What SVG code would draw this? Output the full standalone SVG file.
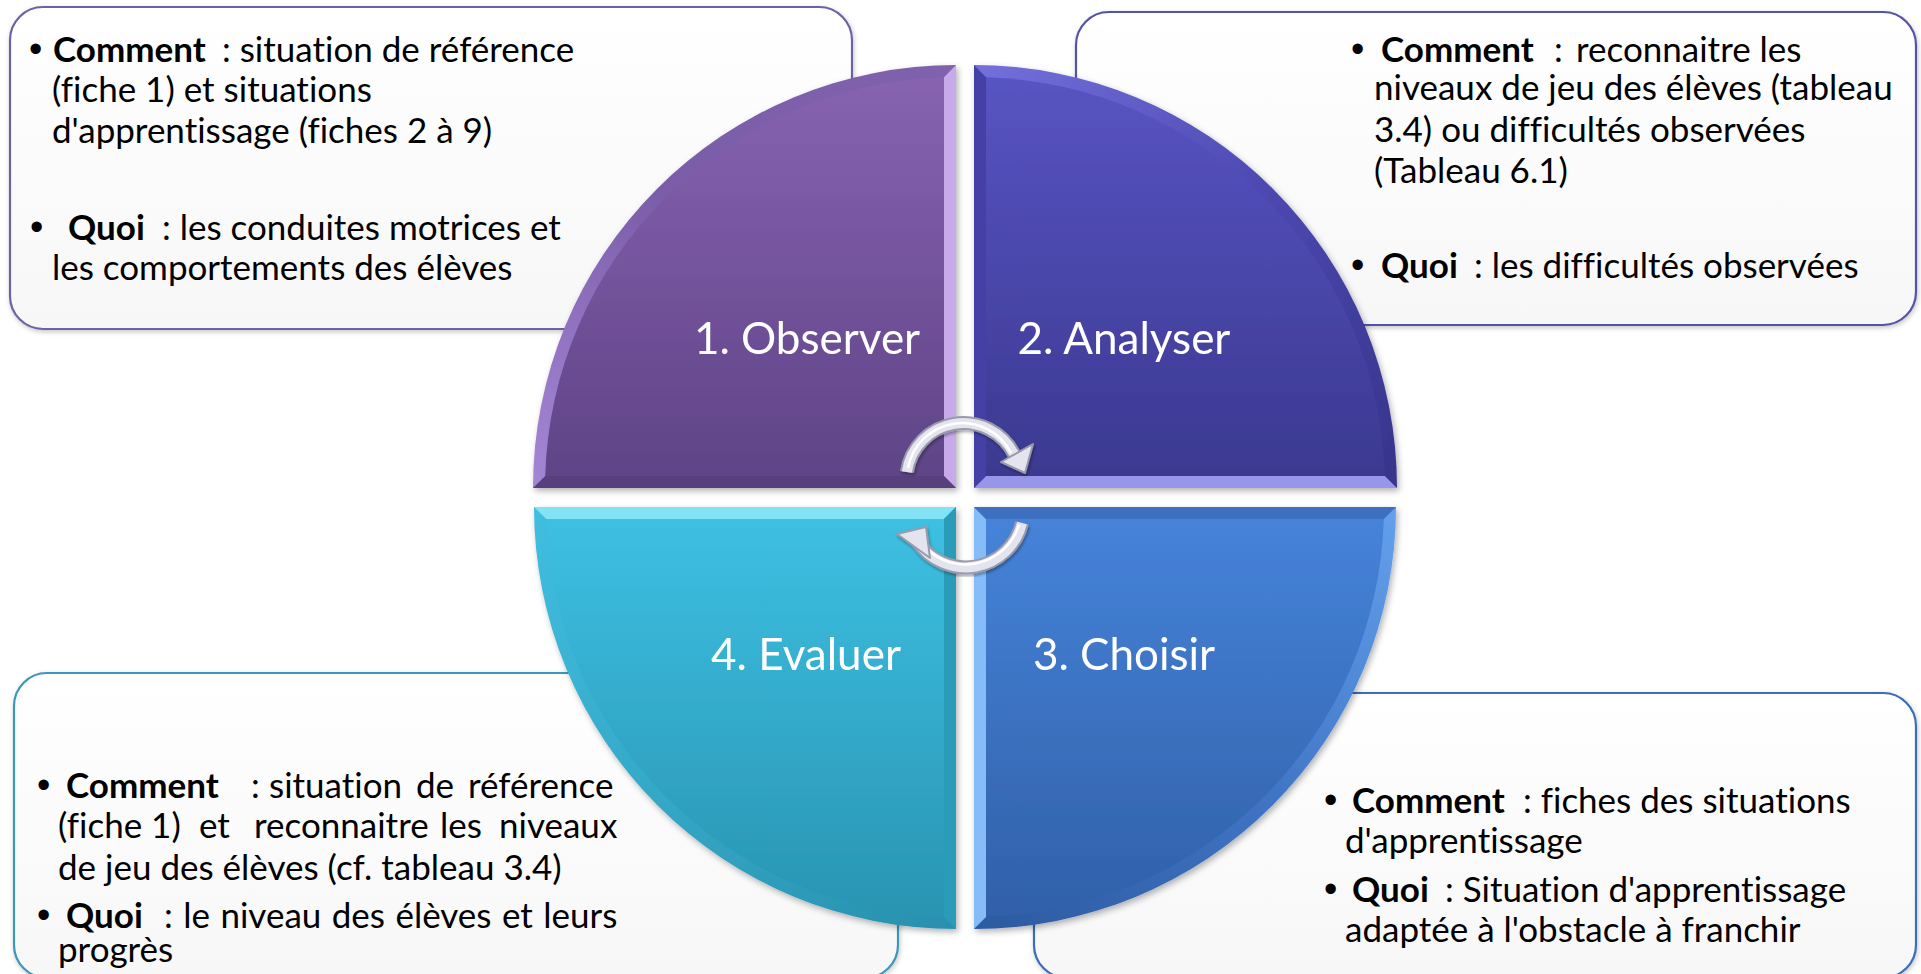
<svg xmlns="http://www.w3.org/2000/svg" width="1921" height="974" viewBox="0 0 1921 974">
<defs>
<style>
.box{fill:url(#boxFill);stroke-width:2.2}
.t{font-family:Lato,"Liberation Sans",sans-serif;font-size:35px;fill:#000;font-variant-ligatures:none;font-feature-settings:"liga" 0}
.b{font-weight:bold}
.bul{font-family:"Liberation Sans",sans-serif;font-size:38px;fill:#000}
.lbl{font-family:Lato,"Liberation Sans",sans-serif;font-size:44px;fill:#fff;text-anchor:middle;font-variant-ligatures:none}
.arrowOut{fill:none;stroke:#9a9aad;stroke-width:14;stroke-linecap:butt}
.arrowIn{fill:none;stroke:#e4e4ee;stroke-width:10;stroke-linecap:butt}
.arrowHi{fill:none;stroke:#ffffff;stroke-width:2.5}
.head{fill:#e4e4ee;stroke:#9a9aad;stroke-width:2;stroke-linejoin:round}
</style>
<linearGradient id="boxFill" x1="0" y1="0" x2="0" y2="1"><stop offset="0" stop-color="#ffffff"/><stop offset="1" stop-color="#f7f7f8"/></linearGradient>
<linearGradient id="g1" x1="0" y1="0" x2="0" y2="1"><stop offset="0" stop-color="#8763b0"/><stop offset="1" stop-color="#5f4487"/></linearGradient>
<linearGradient id="g2" x1="0" y1="0" x2="0" y2="1"><stop offset="0" stop-color="#5854c3"/><stop offset="1" stop-color="#3b3990"/></linearGradient>
<linearGradient id="g3" x1="0" y1="0" x2="0" y2="1"><stop offset="0" stop-color="#4683d9"/><stop offset="1" stop-color="#3060a8"/></linearGradient>
<linearGradient id="g4" x1="0" y1="0" x2="0" y2="1"><stop offset="0" stop-color="#3dc0e2"/><stop offset="1" stop-color="#2994b2"/></linearGradient>
<linearGradient id="e1" x1="0" y1="1" x2="1" y2="0"><stop offset="0" stop-color="#a486d6"/><stop offset="0.5" stop-color="#7a5ca8"/><stop offset="1" stop-color="#8062ae"/></linearGradient>
<linearGradient id="e2" x1="0" y1="0" x2="1" y2="1"><stop offset="0" stop-color="#7470dc"/><stop offset="0.5" stop-color="#4c48b0"/><stop offset="1" stop-color="#36348a"/></linearGradient>
<linearGradient id="e3" x1="1" y1="0" x2="0" y2="1"><stop offset="0" stop-color="#64a0ec"/><stop offset="0.5" stop-color="#3f74c4"/><stop offset="1" stop-color="#2c5aa0"/></linearGradient>
<linearGradient id="e4" x1="0" y1="0" x2="1" y2="1"><stop offset="0" stop-color="#40bedf"/><stop offset="1" stop-color="#2890ae"/></linearGradient>
<filter id="sh" x="-10%" y="-10%" width="120%" height="120%"><feDropShadow dx="2" dy="3" stdDeviation="3" flood-color="#000" flood-opacity="0.3"/></filter>
<filter id="shb" x="-5%" y="-5%" width="110%" height="110%"><feDropShadow dx="1" dy="2" stdDeviation="2.5" flood-color="#000" flood-opacity="0.22"/></filter>
<filter id="sha" x="-20%" y="-20%" width="140%" height="140%"><feDropShadow dx="1" dy="2" stdDeviation="1.5" flood-color="#000" flood-opacity="0.35"/></filter>
</defs>
<rect width="1921" height="974" fill="#ffffff"/>

<g id="box-observer">
<rect class="box" x="10" y="7" width="842" height="322" rx="33" stroke="#6e62a2" filter="url(#shb)"/>
<text class="bul" x="29" y="62">•</text>
<text class="t" x="53" y="62"><tspan class="b">Comment</tspan><tspan x="222">: situation de référence</tspan></text>
<text class="t" x="52" y="102">(fiche 1) et situations</text>
<text class="t" x="52" y="143">d'apprentissage (fiches 2 à 9)</text>
<text class="bul" x="30" y="240">•</text>
<text class="t" x="68" y="240"><tspan class="b">Quoi</tspan><tspan x="162">: les conduites motrices et</tspan></text>
<text class="t" x="52" y="280">les comportements des élèves</text>
</g>

<g id="box-analyser">
<rect class="box" x="1076" y="12" width="840" height="313" rx="33" stroke="#5553a8" filter="url(#shb)"/>
<text class="bul" x="1351" y="62">•</text>
<text class="t" x="1381" y="62"><tspan class="b">Comment</tspan><tspan x="1554">:</tspan><tspan x="1576">reconnaitre les</tspan></text>
<text class="t" x="1374" y="100">niveaux de jeu des élèves (tableau</text>
<text class="t" x="1374" y="142">3.4) ou difficultés observées</text>
<text class="t" x="1374" y="183">(Tableau 6.1)</text>
<text class="bul" x="1351" y="278">•</text>
<text class="t" x="1381" y="278"><tspan class="b">Quoi</tspan><tspan x="1474">: les difficultés observées</tspan></text>
</g>

<g id="box-evaluer">
<rect class="box" x="14" y="673" width="884" height="305" rx="33" stroke="#3b98b6" filter="url(#shb)"/>
<text class="bul" x="37" y="798">•</text>
<text class="t" y="798"><tspan class="b" x="66">Comment</tspan><tspan x="251">:</tspan><tspan x="269">situation</tspan><tspan x="416">de</tspan><tspan x="468">référence</tspan></text>
<text class="t" y="838"><tspan x="58">(fiche 1)</tspan><tspan x="199">et</tspan><tspan x="254">reconnaitre</tspan><tspan x="440">les</tspan><tspan x="499">niveaux</tspan></text>
<text class="t" x="58" y="880">de jeu des élèves (cf. tableau 3.4)</text>
<text class="bul" x="37" y="928">•</text>
<text class="t" y="928"><tspan class="b" x="66">Quoi</tspan><tspan x="164" word-spacing="1.5">: le niveau des élèves et leurs</tspan></text>
<text class="t" x="58" y="962">progrès</text>
</g>

<g id="box-choisir">
<rect class="box" x="1034" y="693" width="882" height="285" rx="33" stroke="#3d6db8" filter="url(#shb)"/>
<text class="bul" x="1324" y="813">•</text>
<text class="t" x="1352" y="813"><tspan class="b">Comment</tspan><tspan x="1523">: fiches des situations</tspan></text>
<text class="t" x="1345" y="853">d'apprentissage</text>
<text class="bul" x="1324" y="902">•</text>
<text class="t" x="1352" y="902"><tspan class="b">Quoi</tspan><tspan x="1445">: Situation d'apprentissage</tspan></text>
<text class="t" x="1345" y="942">adaptée à l'obstacle à franchir</text>
</g>

<g id="q1-observer" filter="url(#sh)">
<path d="M956 488 L956 65 A423 423 0 0 0 533 488 Z" fill="url(#e1)"/>
<path d="M956 65 L956 488 L944 476 L944 77.2 Z" fill="#c7aaea"/>
<path d="M956 488 L533 488 L545.2 476 L944 476 Z" fill="#59407f"/>
<path d="M944 476 L944 77.2 A411 411 0 0 0 545.2 476 Z" fill="url(#g1)"/>
<text class="lbl" x="807" y="354">1. Observer</text>
</g>

<g id="q2-analyser" filter="url(#sh)">
<path d="M974 488 L974 65 A423 423 0 0 1 1397 488 Z" fill="url(#e2)"/>
<path d="M974 488 L1397 488 L1384.8 476 L986 476 Z" fill="#9896ea"/>
<path d="M974 65 L974 488 L986 476 L986 77.2 Z" fill="#4541a6"/>
<path d="M986 476 L986 77.2 A411 411 0 0 1 1384.8 476 Z" fill="url(#g2)"/>
<text class="lbl" x="1124" y="354">2. Analyser</text>
</g>

<g id="q3-choisir" filter="url(#sh)">
<path d="M974 507 L1396 507 A422 422 0 0 1 974 929 Z" fill="url(#e3)"/>
<path d="M974 507 L974 929 L986 917 L986 519 Z" fill="#86bcf8"/>
<path d="M974 507 L1396 507 L1383.8 519 L986 519 Z" fill="#3c70c0"/>
<path d="M986 519 L1383.8 519 A410 410 0 0 1 986 916.8 Z" fill="url(#g3)"/>
<text class="lbl" x="1124" y="670">3. Choisir</text>
</g>

<g id="q4-evaluer" filter="url(#sh)">
<path d="M956 507 L956 929 A422 422 0 0 1 534 507 Z" fill="url(#e4)"/>
<path d="M956 507 L534 507 L546.2 519 L944 519 Z" fill="#82e2f6"/>
<path d="M956 507 L956 929 L944 917 L944 519 Z" fill="#2b9cba"/>
<path d="M944 519 L944 916.8 A410 410 0 0 1 546.2 519 Z" fill="url(#g4)"/>
<text class="lbl" x="806" y="670">4. Evaluer</text>
</g>

<g id="connectors">
<g id="arrow-top" filter="url(#sha)">
<path class="arrowOut" d="M906.9 472 A57 57 0 0 1 1014 454"/>
<path class="arrowIn" d="M906.9 472 A57 57 0 0 1 1014 454"/>
<path class="arrowHi" d="M908 468 A55 55 0 0 1 1011 453"/>
<polygon class="head" points="1001,462 1033,444 1025,473"/>
</g>
<g id="arrow-bottom" filter="url(#sha)">
<path class="arrowOut" d="M1022 523 A58 58 0 0 1 917 541"/>
<path class="arrowIn" d="M1022 523 A58 58 0 0 1 917 541"/>
<path class="arrowHi" d="M1019 525 A56 56 0 0 1 920 541"/>
<polygon class="head" points="926,527 930,558 897,534"/>
</g>
</g>
</svg>
